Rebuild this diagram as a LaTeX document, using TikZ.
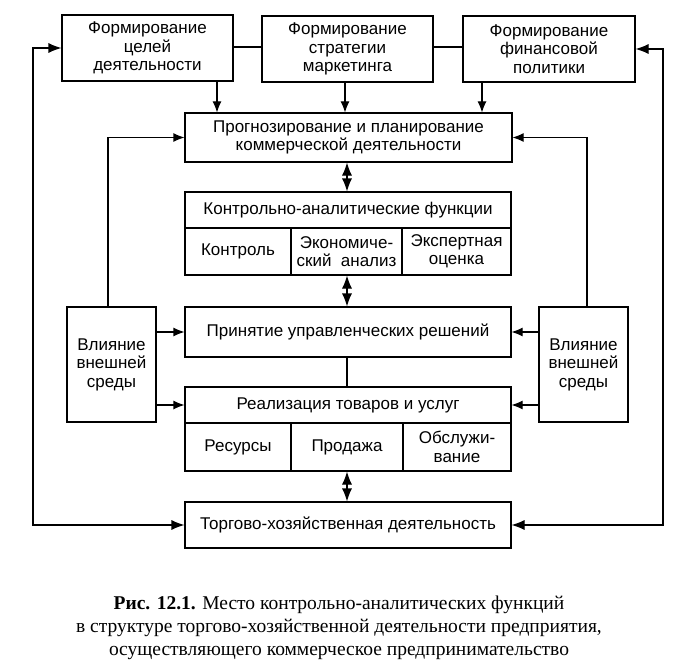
\documentclass[tikz,border=0pt]{standalone}
\usepackage{fontspec}
\setmainfont{Liberation Sans}
\newfontfamily\capfont{Liberation Serif}
\usetikzlibrary{arrows.meta}
\tikzset{
  box/.style={draw, line width=1.1pt, inner sep=1pt, align=center,
    font=\fontsize{17}{18.5}\selectfont},
  arr/.style={line width=1.1pt, -{Latex[length=11pt,width=9pt]}},
  darr/.style={line width=1.1pt, {Latex[length=13pt,width=10pt]}-{Latex[length=13pt,width=10pt]}},
  ln/.style={line width=1.1pt},
}
\begin{document}
\begin{tikzpicture}[x=1pt,y=-1pt]
\useasboundingbox (0,0) rectangle (678,669);
% top row
\node[box, minimum width=171pt, minimum height=66pt] (f1) at (147.5,48) {Формирование\\целей\\деятельности};
\node[box, minimum width=171pt, minimum height=66pt] (f2) at (347.5,49) {Формирование\\стратегии\\маркетинга};
\node[box, minimum width=172pt, minimum height=66pt] (f3) at (549,49) {Формирование\\финансовой\\политики};
% forecast
\node[box, minimum width=327pt, minimum height=49pt] (fc) at (348.5,137.5) {Прогнозирование и планирование\\коммерческой деятельности};
% control functions
\node[box, minimum width=326pt, minimum height=36pt] (ch) at (348,210) {Контрольно-аналитические функции};
\node[box, minimum width=106pt, minimum height=47pt] (c1) at (238,251.5) {Контроль};
\node[box, minimum width=111pt, minimum height=47pt] (c2) at (346.5,251.5) {Экономиче-\\ский\ \ анализ};
\node[box, minimum width=109pt, minimum height=47pt] (c3) at (456.5,251.5) {Экспертная\\оценка};
% decisions
\node[box, minimum width=326pt, minimum height=50pt] (dc) at (348,332) {Принятие управленческих решений};
% realization
\node[box, minimum width=326pt, minimum height=36pt] (rh) at (348,405) {Реализация товаров и услуг};
\node[box, minimum width=106pt, minimum height=48pt] (r1) at (238,447) {Ресурсы};
\node[box, minimum width=112pt, minimum height=48pt] (r2) at (347,447) {Продажа};
\node[box, minimum width=108pt, minimum height=48pt] (r3) at (457,447) {Обслужи-\\вание};
% trade
\node[box, minimum width=326pt, minimum height=46pt] (tr) at (348,525) {Торгово-хозяйственная деятельность};
% environment
\node[box, minimum width=89pt, minimum height=115pt] (eL) at (111.5,364.5) {Влияние\\внешней\\среды};
\node[box, minimum width=89pt, minimum height=115pt] (eR) at (583.5,364.5) {Влияние\\внешней\\среды};
% outer corners
\coordinate (oL) at (33,300);
\coordinate (oR) at (663,300);
% connectors
\draw[ln] (f1.east |- 0,47) -- (f2.west |- 0,47);
\draw[ln] (f2.east |- 0,47) -- (f3.west |- 0,47);
\draw[arr] (f1.south -| 217,0) -- (fc.north -| 217,0);
\draw[arr] (f2.south -| 345,0) -- (fc.north -| 345,0);
\draw[arr] (f3.south -| 482,0) -- (fc.north -| 482,0);
\draw[darr] (fc.south -| 347,0) -- (ch.north -| 347,0);
\draw[darr] (c2.south -| 347,0) -- (dc.north -| 347,0);
\draw[ln] (dc.south -| 347,0) -- (rh.north -| 347,0);
\draw[darr] (r2.south -| 347,0) -- (tr.north -| 347,0);
\draw[arr] (eL.north -| 108,0) |- (fc.west);
\draw[arr] (eR.north -| 587,0) |- (fc.east);
\draw[arr] (eL.east |- dc.west) -- (dc.west);
\draw[arr] (eL.east |- rh.west) -- (rh.west);
\draw[arr] (eR.west |- dc.east) -- (dc.east);
\draw[arr] (eR.west |- rh.east) -- (rh.east);
\draw[darr] (f1.west) -| (oL) |- (tr.west);
\draw[darr] (f3.east) -| (oR) |- (tr.east);
% caption
\node[align=center, font=\capfont\fontsize{19.5}{23}\selectfont] (cap) at (339,628)
  {\textbf{Рис. 12.1.} Место контрольно-аналитических функций\\
   в структуре торгово-хозяйственной деятельности предприятия,\\
   осуществляющего коммерческое предпринимательство};
\end{tikzpicture}
\end{document}
